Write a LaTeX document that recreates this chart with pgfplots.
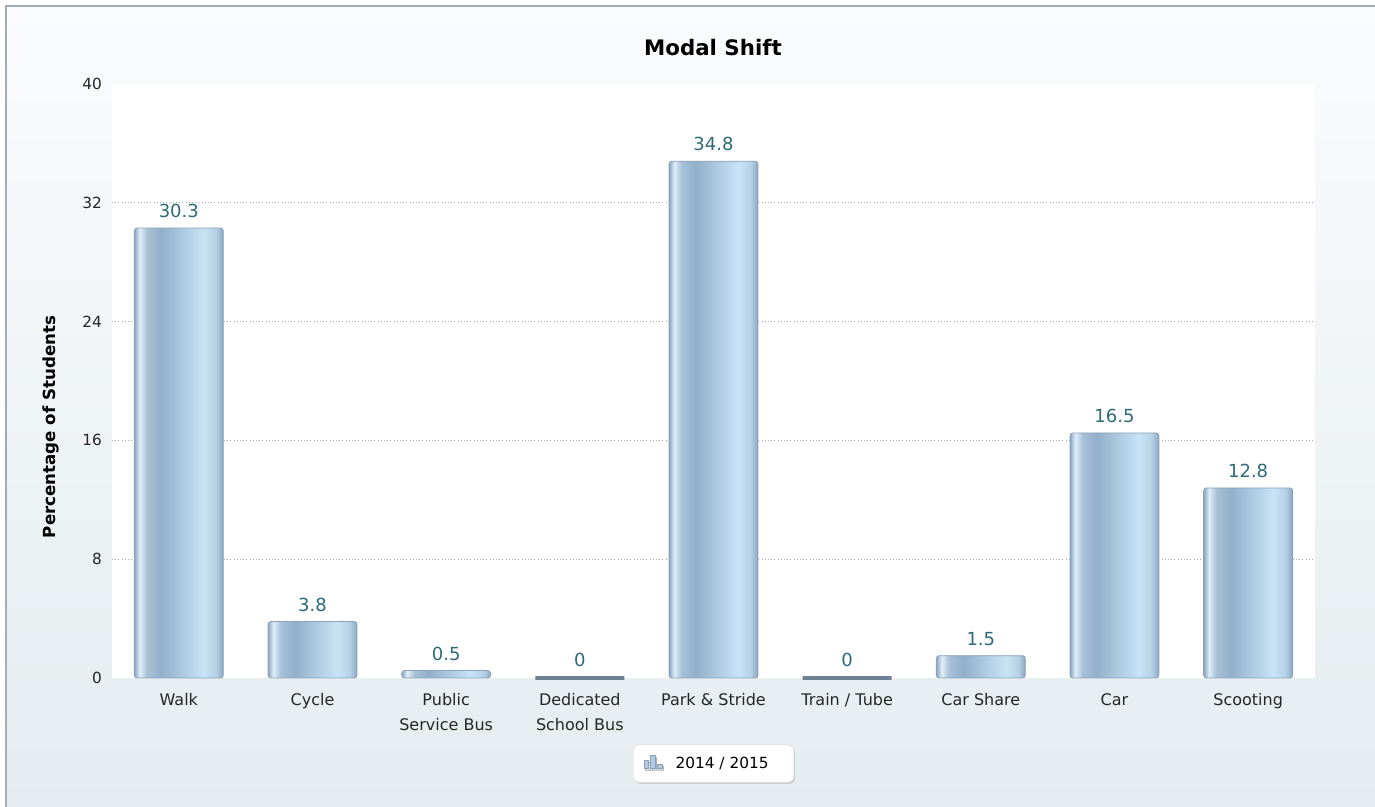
\documentclass[border=0pt]{standalone}
\usepackage{fontspec}
\setmainfont{DejaVu Sans}
\usepackage{pgfplots}
\pgfplotsset{compat=1.18}
\usetikzlibrary{shadows}

\definecolor{valcol}{HTML}{2E6B7A}
\definecolor{barline}{HTML}{8AA3BA}
\definecolor{bgtop}{HTML}{FAFCFD}
\definecolor{bgbot}{HTML}{E5ECEF}
\definecolor{framecol}{HTML}{A3ADB5}
\definecolor{gridcol}{HTML}{A8A8A8}
\definecolor{bE}{HTML}{8BA6BF}
\definecolor{bH}{HTML}{E0EEF9}
\definecolor{bA}{HTML}{A8C1D7}
\definecolor{bD}{HTML}{92AFCA}
\definecolor{bM}{HTML}{AFCBE2}
\definecolor{bL}{HTML}{C9E3F6}
\definecolor{bR}{HTML}{B5CFE5}

% bar colour runs across the bar (middle 50bp = bar width)
\pgfdeclarehorizontalshading{barshade}{100bp}{
  color(0bp)=(bE); color(25bp)=(bE); color(28bp)=(bH); color(32bp)=(bA);
  color(40bp)=(bD); color(52.5bp)=(bM); color(64bp)=(bL); color(71bp)=(bR);
  color(75bp)=(bE); color(100bp)=(bE)}

\pgfplotsset{
  valnode/.style={nodes near coords,
    every node near coord/.append style={text=valcol, font=\fontsize{13.5}{16}\selectfont,
      /pgf/number format/fixed, /pgf/number format/precision=1, yshift=4pt}},
  % one plot per bar, so that each bar gets its own shading
  mybar/.style={ybar, bar width=0.665, bar shift=0pt, draw=barline, line width=0.6pt,
    shade, shading=barshade, rounded corners=2pt, forget plot, valnode},
  zerobar/.style={ybar, bar width=0.665, bar shift=0pt, draw=barline!80!black,
    line width=2.4pt, line cap=round, forget plot, valnode},
}

\begin{document}
\begin{tikzpicture}[x=0.75pt, y=0.75pt]
% canvas 1375 x 807 px, 1px = 0.75pt
\path[use as bounding box] (0,0) rectangle (1375,807);
\shade[top color=bgtop, bottom color=bgbot] (6,0) rectangle (1375,801);
\draw[framecol, line width=1.2pt] (6,0) -- (6,801) -- (1375,801);

% title and y label
\node[font=\fontsize{16}{19}\selectfont\bfseries] at (713,759) {Modal Shift};
\node[rotate=90, font=\fontsize{12.5}{15}\selectfont\bfseries] at (51,380) {Percentage of Students};

\begin{axis}[
  at={(84pt,96.75pt)}, anchor=south west,
  scale only axis,
  width=902.25pt, height=445.5pt,
  xmin=-0.5, xmax=8.5,
  ymin=0, ymax=40,
  /pgf/number format/assume math mode=true,
  axis line style={draw=none},
  axis background/.style={fill=white},
  major tick length=0pt,
  xtick={0,...,8},
  xticklabels={Walk, Cycle, {Public\\Service Bus}, {Dedicated\\School Bus},
    Park \& Stride, Train / Tube, Car Share, Car, Scooting},
  xticklabel style={align=center, font=\fontsize{12}{18.75}\selectfont,
    yshift=-8pt, text=black!85},
  ytick={0,8,...,40},
  yticklabel style={font=\fontsize{11.5}{14}\selectfont, xshift=-4pt, text=black!85},
  extra y ticks={8,16,24,32},
  extra y tick labels={},
  extra y tick style={grid=major, major grid style={gridcol, dotted, line width=0.8pt}},
  clip=false,
  legend style={at={(rel axis cs:0.5,0)}, anchor=north, yshift=-50pt,
    draw=black!15, fill=white, rounded corners=4pt,
    drop shadow={shadow xshift=1pt, shadow yshift=-1.2pt, opacity=0.25},
    inner xsep=8pt, inner ysep=7pt,
    font=\fontsize{11.5}{14}\selectfont},
  legend cell align=left,
]

\addplot[mybar] coordinates {(0,30.3)};
\addplot[mybar] coordinates {(1,3.8)};
\addplot[mybar] coordinates {(2,0.5)};
\addplot[zerobar] coordinates {(3,0)};
\addplot[mybar] coordinates {(4,34.8)};
\addplot[zerobar] coordinates {(5,0)};
\addplot[mybar] coordinates {(6,1.5)};
\addplot[mybar] coordinates {(7,16.5)};
\addplot[mybar] coordinates {(8,12.8)};

% legend entry: small bar-chart icon
\addlegendimage{legend image code/.code={
  \draw[sharp corners, barline, fill=bM, line width=0.4pt]
    (0pt,-3.5pt) rectangle (3.5pt,2.5pt)
    (5pt,-3.5pt) rectangle (8.5pt,6pt)
    (10pt,-3.5pt) rectangle (13.5pt,-0.5pt);}}
\addlegendentry{\hspace*{8pt}2014 / 2015\hspace*{9pt}}

\end{axis}
\end{tikzpicture}
\end{document}
